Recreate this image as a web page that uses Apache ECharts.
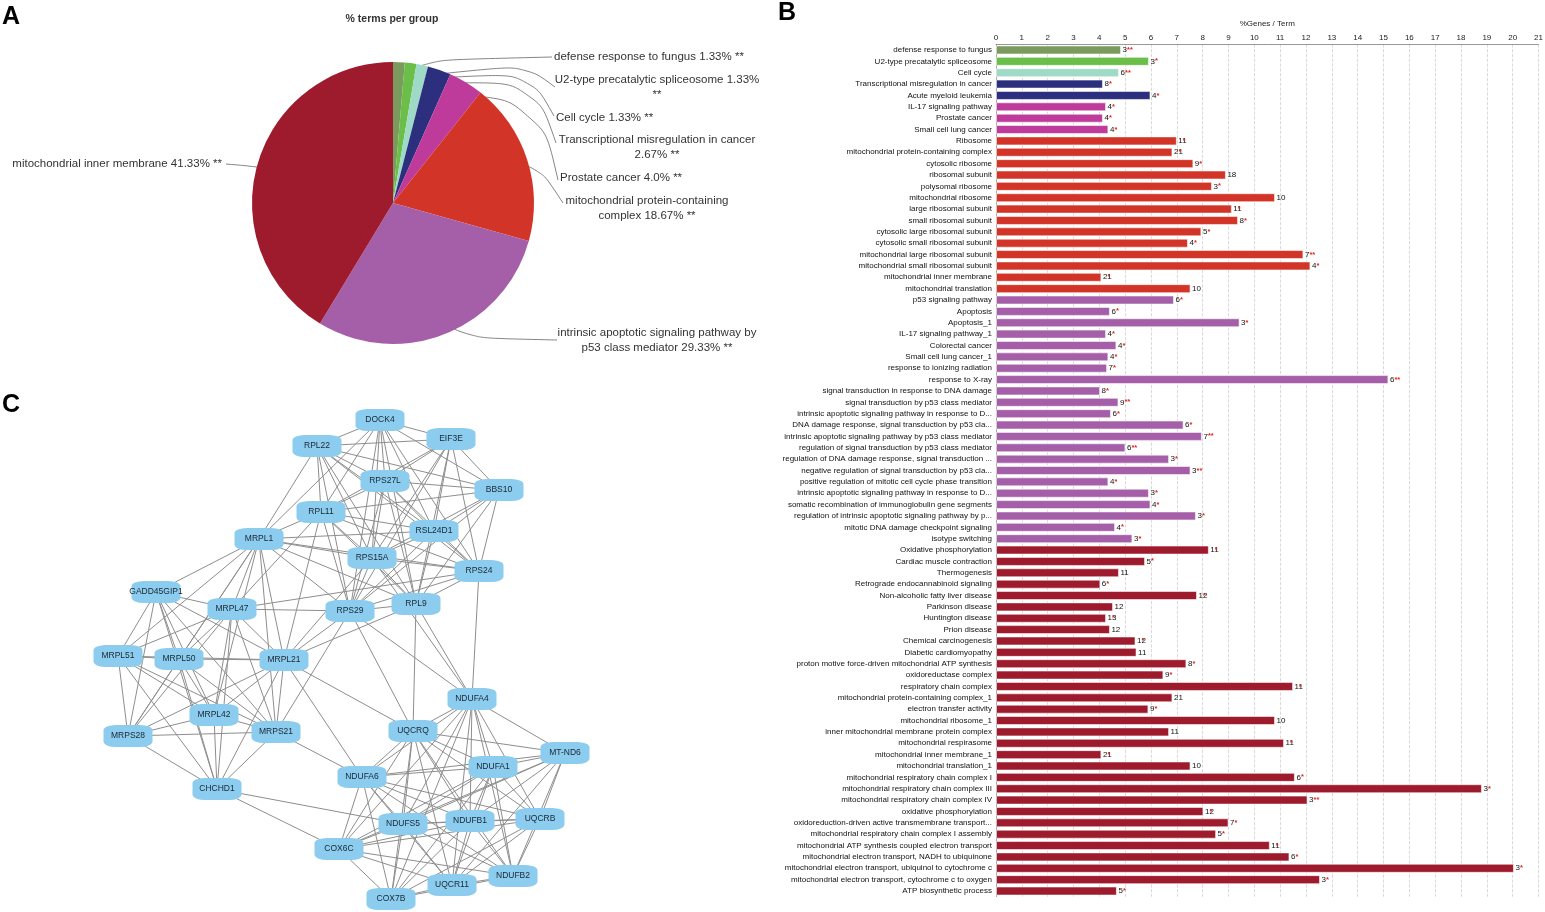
<!DOCTYPE html>
<html><head><meta charset="utf-8">
<script src="https://cdn.jsdelivr.net/npm/echarts/dist/echarts.min.js"></script>
<style>html,body{margin:0;padding:0;background:#fff}#c{width:1545px;height:912px}</style>
</head><body><div id="c"></div>
<script>
// ---------- Panel A: % terms per group ----------
const pieNames = ['defense response to fungus','U2-type precatalytic spliceosome','Cell cycle','Transcriptional misregulation in cancer','Prostate cancer','mitochondrial protein-containing complex','intrinsic apoptotic signaling pathway by p53 class mediator','mitochondrial inner membrane'];
const pieValues = [1.33,1.33,1.33,2.67,4.0,18.67,29.33,41.33];
const groupColors = ['#7a9a5e','#6bbf48','#9fdac6','#2b2f7e','#bf3b9b','#d23427','#a55fa8','#9d1b2c'];

// ---------- Panel B: %Genes / Term ----------
const terms = [
'defense response to fungus','U2-type precatalytic spliceosome','Cell cycle','Transcriptional misregulation in cancer','Acute myeloid leukemia','IL-17 signaling pathway','Prostate cancer','Small cell lung cancer',
'Ribosome','mitochondrial protein-containing complex','cytosolic ribosome','ribosomal subunit','polysomal ribosome','mitochondrial ribosome','large ribosomal subunit','small ribosomal subunit','cytosolic large ribosomal subunit','cytosolic small ribosomal subunit','mitochondrial large ribosomal subunit','mitochondrial small ribosomal subunit','mitochondrial inner membrane','mitochondrial translation',
'p53 signaling pathway','Apoptosis','Apoptosis_1','IL-17 signaling pathway_1','Colorectal cancer','Small cell lung cancer_1','response to ionizing radiation','response to X-ray','signal transduction in response to DNA damage','signal transduction by p53 class mediator','intrinsic apoptotic signaling pathway in response to D...','DNA damage response, signal transduction by p53 cla...','intrinsic apoptotic signaling pathway by p53 class mediator','regulation of signal transduction by p53 class mediator','regulation of DNA damage response, signal transduction ...','negative regulation of signal transduction by p53 cla...','positive regulation of mitotic cell cycle phase transition','intrinsic apoptotic signaling pathway in response to D...','somatic recombination of immunoglobulin gene segments','regulation of intrinsic apoptotic signaling pathway by p...','mitotic DNA damage checkpoint signaling','isotype switching',
'Oxidative phosphorylation','Cardiac muscle contraction','Thermogenesis','Retrograde endocannabinoid signaling','Non-alcoholic fatty liver disease','Parkinson disease','Huntington disease','Prion disease','Chemical carcinogenesis','Diabetic cardiomyopathy','proton motive force-driven mitochondrial ATP synthesis','oxidoreductase complex','respiratory chain complex','mitochondrial protein-containing complex_1','electron transfer activity','mitochondrial ribosome_1','inner mitochondrial membrane protein complex','mitochondrial respirasome','mitochondrial inner membrane_1','mitochondrial translation_1','mitochondrial respiratory chain complex I','mitochondrial respiratory chain complex III','mitochondrial respiratory chain complex IV','oxidative phosphorylation','oxidoreduction-driven active transmembrane transport...','mitochondrial respiratory chain complex I assembly','mitochondrial ATP synthesis coupled electron transport','mitochondrial electron transport, NADH to ubiquinone','mitochondrial electron transport, ubiquinol to cytochrome c','mitochondrial electron transport, cytochrome c to oxygen','ATP biosynthetic process'];
const pctGenes = [4.84,5.92,4.76,4.14,5.98,4.26,4.14,4.35,
 7.0,6.83,7.64,8.9,8.36,10.8,9.13,9.37,7.95,7.43,11.9,12.17,4.08,7.53,
 6.89,4.41,9.43,4.26,4.66,4.35,4.3,15.19,4.03,4.74,4.45,7.26,7.97,5.01,6.7,7.53,4.35,5.92,5.98,7.74,4.61,5.28,
 8.24,5.77,4.76,4.04,7.78,4.53,4.26,4.41,5.4,5.44,7.37,6.48,11.5,6.83,5.9,10.8,6.7,11.15,4.08,7.53,11.57,18.81,12.06,8.03,9.0,8.52,10.6,11.36,20.05,12.54,4.68];
const geneCounts = [3,3,6,8,4,4,4,4,11,21,9,18,3,10,11,8,5,4,7,4,21,10,6,6,3,4,4,4,7,6,8,9,6,6,7,6,3,3,4,3,4,3,4,3,11,5,11,6,12,12,13,12,12,11,8,9,11,21,9,10,11,11,21,10,6,3,3,12,7,5,11,6,3,3,5];
const termStars = ['**','*','**','*','*','*','*','*','*','*','*','','*','','*','*','*','*','**','*','*','',
 '*','*','*','*','*','*','*','**','*','**','*','*','**','**','*','**','*','*','*','*','*','*',
 '*','*','','*','*','','*','','*','','*','*','*','','*','','','*','*','','*','*','**','*','*','*','*','*','*','*','*'];
const termGroup = [0,1,2,3,3,4,4,4,
 5,5,5,5,5,5,5,5,5,5,5,5,5,5,
 6,6,6,6,6,6,6,6,6,6,6,6,6,6,6,6,6,6,6,6,6,6,
 7,7,7,7,7,7,7,7,7,7,7,7,7,7,7,7,7,7,7,7,7,7,7,7,7,7,7,7,7,7,7];

// ---------- Panel C: network ----------
const nodeNames = ['DOCK4','EIF3E','RPL22','RPS27L','BBS10','RPL11','RSL24D1','MRPL1','RPS15A','RPS24','GADD45GIP1','RPL9','MRPL47','RPS29','MRPL51','MRPL50','MRPL21','NDUFA4','MRPL42','UQCRQ','MRPS28','MRPS21','MT-ND6','NDUFA1','NDUFA6','CHCHD1','UQCRB','NDUFB1','NDUFS5','COX6C','NDUFB2','UQCR11','COX7B'];
const nodeXY = [[300,20],[371,39],[237,46],[305,81],[419,90],[241,112],[354,131],[179,139],[292,158],[399,171],[76,192],[336,204],[152,209],[270,211],[38,256],[99,259],[204,260],[392,299],[134,315],[333,331],[48,336],[196,332],[485,353],[413,367],[282,377],[137,389],[460,419],[390,421],[323,424],[259,449],[433,476],[372,485],[311,499]];
const adjacency = [
 'DOCK4: EIF3E RPL22 RPS27L BBS10 RPL11 RSL24D1 RPS15A RPS24 RPL9 RPS29 MRPL1',
 'EIF3E: RPL22 RPS27L BBS10 RPL11 RSL24D1 RPS15A RPS24 RPL9 RPS29',
 'RPL22: RPS27L BBS10 RPL11 RSL24D1 RPS15A RPS24 RPL9 RPS29 MRPL1',
 'RPS27L: BBS10 RPL11 RSL24D1 RPS15A RPS24 RPL9 RPS29',
 'BBS10: RPL11 RSL24D1 RPS15A RPS24 RPL9 RPS29',
 'RPL11: RSL24D1 RPS15A RPS24 RPL9 RPS29 MRPL1 MRPL47 MRPL21',
 'RSL24D1: RPS15A RPS24 RPL9 RPS29 MRPL1',
 'RPS15A: RPS24 RPL9 RPS29 MRPL1 MRPL21 NDUFA4',
 'RPS24: RPL9 RPS29 MRPL1 NDUFA4 MRPL47',
 'RPL9: RPS29 MRPL1 MRPL21 UQCRQ NDUFA4',
 'RPS29: MRPL47 MRPL21 MRPS21 UQCRQ NDUFA4 MRPL1',
 'MRPL1: GADD45GIP1 MRPL47 MRPL51 MRPL50 MRPL21 MRPL42 MRPS21 MRPS28',
 'GADD45GIP1: MRPL47 MRPL51 MRPL50 MRPL21 MRPL42 MRPS28 MRPS21 CHCHD1',
 'MRPL47: MRPL51 MRPL50 MRPL21 MRPL42 MRPS28 MRPS21 CHCHD1',
 'MRPL51: MRPL50 MRPL21 MRPL42 MRPS28 MRPS21 CHCHD1',
 'MRPL50: MRPL21 MRPL42 MRPS28 MRPS21 CHCHD1',
 'MRPL21: MRPL42 MRPS28 MRPS21 CHCHD1 UQCRQ NDUFA6',
 'MRPL42: MRPS28 MRPS21 CHCHD1',
 'MRPS28: MRPS21 CHCHD1',
 'MRPS21: CHCHD1 NDUFA6',
 'CHCHD1: COX6C NDUFS5',
 'NDUFA4: UQCRQ MT-ND6 NDUFA1 NDUFA6 UQCRB NDUFB1 NDUFS5 COX6C NDUFB2 UQCR11 COX7B',
 'UQCRQ: MT-ND6 NDUFA1 NDUFA6 UQCRB NDUFB1 NDUFS5 COX6C NDUFB2 UQCR11 COX7B',
 'MT-ND6: NDUFA1 NDUFA6 UQCRB NDUFB1 NDUFS5 COX6C NDUFB2 UQCR11',
 'NDUFA1: NDUFA6 UQCRB NDUFB1 NDUFS5 COX6C NDUFB2 UQCR11 COX7B',
 'NDUFA6: UQCRB NDUFB1 NDUFS5 COX6C NDUFB2 UQCR11 COX7B',
 'UQCRB: NDUFB1 NDUFS5 COX6C NDUFB2 UQCR11 COX7B',
 'NDUFB1: NDUFS5 COX6C NDUFB2 UQCR11 COX7B',
 'NDUFS5: COX6C NDUFB2 UQCR11 COX7B',
 'COX6C: NDUFB2 UQCR11 COX7B',
 'NDUFB2: UQCR11 COX7B',
 'UQCR11: COX7B'];

// ---------- layout / style (not data) ----------
const FONT = '"Liberation Sans", Arial, Helvetica, sans-serif';
const PIE_CENTER = [393, 203], PIE_R = 141;
const pieWrapAfter = [0,4,0,4,0,2,5,0];
const pieLabelPos = [[554,57,'left'],[657,87,'center'],[556,118,'left'],[657,147.5,'center'],[560,178,'left'],[647,208.5,'center'],[657,340.5,'center'],[222,164,'right']];
const pieLineBend = [[430,60],[525,65],[530,73],[535,82],[540,102],[540,168],[470,338],[250,166]];
const pieLineEnd = [[552,57],[555,87],[554,116],[556,143],[558,180],[563,203],[557,340],[226,164]];

function fmtPct(v){ return (v % 1 === 0) ? v.toFixed(1) : String(v); }
function pieMidAngle(i){
  const total = pieValues.reduce((a,b)=>a+b,0);
  let cum = 0; for (let k=0;k<i;k++) cum += pieValues[k];
  return (cum + pieValues[i]/2) / total * 2 * Math.PI;
}

const links = [];
adjacency.forEach(line => {
  const [src, rest] = line.split(':');
  rest.trim().split(/\s+/).forEach(t => links.push({source: src.trim(), target: t}));
});

const chart = echarts.init(document.getElementById('c'));
chart.setOption({
  animation: false,
  backgroundColor: '#fff',
  textStyle: {fontFamily: FONT},
  title: [
    {text:'A', left:2, top:5, padding:0, textStyle:{fontSize:25, fontWeight:'bold', color:'#000', fontFamily:FONT}},
    {text:'B', left:778, top:1, padding:0, textStyle:{fontSize:25, fontWeight:'bold', color:'#000', fontFamily:FONT}},
    {text:'C', left:2, top:393, padding:0, textStyle:{fontSize:25, fontWeight:'bold', color:'#000', fontFamily:FONT}},
    {text:'% terms per group', left:392, top:14, padding:0, textAlign:'center', textStyle:{fontSize:10.5, fontWeight:'bold', color:'#333', fontFamily:FONT}}
  ],
  grid: [
    {left:996, top:44.3, width:542.5, height:852.4, containLabel:false, outerBoundsMode:'none'},
    {left:80, top:400, width:520, height:512, containLabel:false, outerBoundsMode:'none'}
  ],
  xAxis: [
    {gridIndex:0, type:'value', position:'top', min:0, max:21, interval:1,
     name:'%Genes / Term', nameLocation:'middle', nameGap:17,
     nameTextStyle:{fontSize:8, color:'#222', fontFamily:FONT},
     axisLabel:{fontSize:8, color:'#222', margin:3, fontFamily:FONT},
     axisLine:{show:true, lineStyle:{color:'#999', width:1}},
     axisTick:{show:false},
     splitLine:{show:true, lineStyle:{color:'#cfcfcf', type:'dashed', width:0.8}}},
    {gridIndex:1, type:'value', min:0, max:520, show:false}
  ],
  yAxis: [
    {gridIndex:0, type:'category', data:terms, inverse:true,
     axisLabel:{fontSize:8, color:'#111', margin:4, interval:0, fontFamily:FONT},
     axisLine:{show:true, lineStyle:{color:'#aaa'}},
     axisTick:{show:false}, splitLine:{show:false}},
    {gridIndex:1, type:'value', min:0, max:512, inverse:true, show:false}
  ],
  series: [
    {
      type:'pie', center:PIE_CENTER, radius:PIE_R, startAngle:90, clockwise:true,
      avoidLabelOverlap:false, silent:true,
      data: pieNames.map((n,i)=>({name:n, value:pieValues[i], itemStyle:{color:groupColors[i]}})),
      label:{show:true, position:'outside', fontSize:11.5, lineHeight:15, color:'#333', fontFamily:FONT,
        formatter: p => {
          const words = (p.name + ' ' + fmtPct(p.value) + '% **').split(' ');
          const n = pieWrapAfter[p.dataIndex];
          return n ? words.slice(0,n).join(' ') + '\n' + words.slice(n).join(' ') : words.join(' ');
        }},
      labelLine:{show:true, smooth:0.4, lineStyle:{color:'#666', width:0.8}},
      labelLayout: params => {
        const i = params.dataIndex;
        const a = pieMidAngle(i), r = PIE_R * 0.9;
        const p0 = [PIE_CENTER[0] + r*Math.sin(a), PIE_CENTER[1] - r*Math.cos(a)];
        const pos = pieLabelPos[i];
        return {x:pos[0], y:pos[1], align:pos[2], verticalAlign:'middle',
                labelLinePoints:[p0, pieLineBend[i].slice(), pieLineEnd[i].slice()]};
      }
    },
    {
      type:'bar', xAxisIndex:0, yAxisIndex:0, barWidth:9, silent:true,
      data: pctGenes.map((v,i)=>({value:v, itemStyle:{color:groupColors[termGroup[i]]}})),
      itemStyle:{borderColor:'rgba(255,255,255,0.55)', borderWidth:1},
      label:{show:true, position:'right', distance:1.5, fontSize:8, color:'#111', fontFamily:FONT,
        formatter: p => String(geneCounts[p.dataIndex])}
    },
    {
      type:'bar', xAxisIndex:0, yAxisIndex:0, barWidth:9, barGap:'-100%', silent:true, z:3,
      data: pctGenes,
      itemStyle:{color:'rgba(0,0,0,0)'},
      label:{show:true, position:'right', distance:6, fontSize:7.5, fontWeight:'bold', color:'#e3211c', fontFamily:FONT,
        formatter: p => termStars[p.dataIndex]}
    },
    {
      type:'graph', coordinateSystem:'cartesian2d', xAxisIndex:1, yAxisIndex:1, silent:true,
      symbol:'roundRect', symbolSize:[49,22],
      data: nodeNames.map((n,i)=>({name:n, value:nodeXY[i]})),
      links: links,
      itemStyle:{color:'#8ccdef'},
      label:{show:true, position:'inside', fontSize:8.5, color:'#1a2633', fontFamily:FONT},
      lineStyle:{color:'#8e8e8e', width:1, opacity:1, curveness:0},
      edgeSymbol:['none','none']
    }
  ]
});
</script>
</body></html>
